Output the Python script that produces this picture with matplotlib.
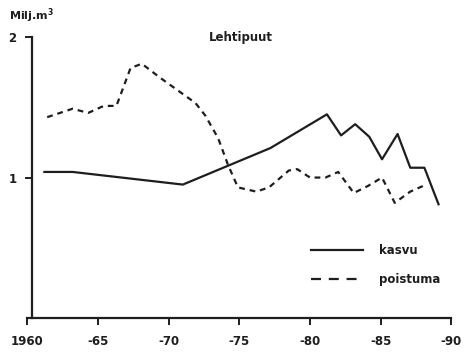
import matplotlib.pyplot as plt

# kasvu (growth) and poistuma (removal), million m3
kasvu_year = [1961.2, 1963.2, 1971.0, 1977.2, 1981.2, 1982.2, 1983.2, 1984.2,
              1985.1, 1986.2, 1987.1, 1988.1, 1989.1]
kasvu_val = [1.04, 1.04, 0.95, 1.21, 1.45, 1.30, 1.38, 1.29,
             1.13, 1.31, 1.07, 1.07, 0.81]

poist_year = [1961.4, 1963.2, 1964.3, 1965.4, 1966.3, 1967.3, 1968.1, 1969.4,
              1971.9, 1972.6, 1973.5, 1974.2, 1974.9, 1976.2, 1977.1, 1978.5,
              1979.1, 1980.0, 1981.1, 1982.0, 1983.1, 1984.1, 1985.1, 1986.0,
              1987.1, 1988.0]
poist_val = [1.43, 1.49, 1.46, 1.51, 1.51, 1.78, 1.81, 1.71,
             1.53, 1.44, 1.28, 1.09, 0.93, 0.90, 0.93, 1.05,
             1.06, 1.00, 1.00, 1.04, 0.89, 0.94, 1.00, 0.82,
             0.90, 0.94]

xticks = [1960, 1965, 1970, 1975, 1980, 1985, 1990]
xlabels = ['1960', '-65', '-70', '-75', '-80', '-85', '-90']
yticks = [1, 2]

ink = '#1e1e1e'
plt.rcParams['font.family'] = 'DejaVu Sans'
plt.rcParams['font.weight'] = 'bold'

fig = plt.figure(figsize=(4.73, 3.53), dpi=100)
ax = fig.add_axes([0.058, 0.099, 0.896, 0.796])

ax.plot(kasvu_year, kasvu_val, color=ink, lw=1.6, label='kasvu')
ax.plot(poist_year, poist_val, color=ink, lw=1.6, dashes=(2.6, 2.2),
        label='poistuma')

ax.set_xlim(1960, 1990)
ax.set_ylim(0, 2)
ax.spines['top'].set_visible(False)
ax.spines['right'].set_visible(False)
ax.spines['left'].set_position(('data', 1960.3))
for s in ('left', 'bottom'):
    ax.spines[s].set_color(ink)
    ax.spines[s].set_linewidth(1.6)

ax.set_xticks(xticks)
ax.set_xticklabels(xlabels)
ax.set_yticks(yticks)
ax.set_yticklabels([str(v) for v in yticks])
ax.tick_params(axis='both', colors=ink, width=1.4, length=5, labelsize=8.5)
ax.tick_params(axis='x', pad=7)
ax.tick_params(axis='y', pad=6)

fig.text(0.02, 0.945, 'Milj.m$^\\mathbf{3}$', fontsize=8, color=ink,
         fontweight='bold')
fig.text(0.51, 0.885, 'Lehtipuut', fontsize=8.5, color=ink, ha='center')

leg = ax.legend(loc='upper left', bbox_to_anchor=(0.645, 0.30), frameon=False,
                handlelength=4.4, handletextpad=1.3, labelspacing=1.3,
                fontsize=8.5)
for t in leg.get_texts():
    t.set_color(ink)
leg.get_lines()[1].set_dashes((4.5, 3.5))

fig.savefig('out.png', dpi=100)
